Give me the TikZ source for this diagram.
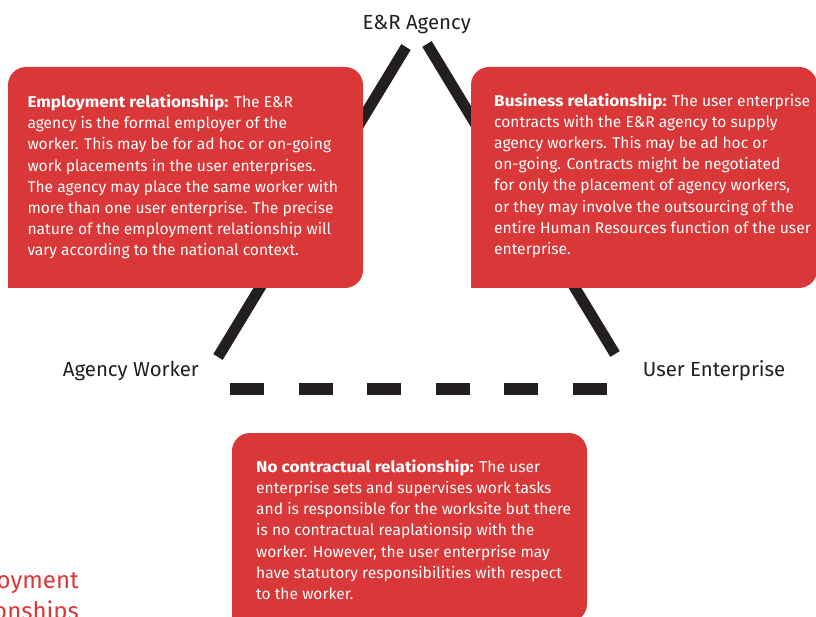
\documentclass[tikz,border=0pt]{standalone}
\usepackage{fontspec}
\setmainfont{Fira Sans}
\newcommand\hdtext[1]{{\addfontfeature{FakeStretch=1.1}\bfseries #1}}
\definecolor{boxred}{RGB}{218,55,56}
\definecolor{ink}{RGB}{35,31,32}
\definecolor{titlered}{RGB}{218,55,56}
\begin{document}
\begin{tikzpicture}[x=1pt,y=-1pt,
  bar/.style={draw=ink,line width=11pt},
  dashbar/.style={draw=ink,line width=12pt,dash pattern=on 34pt off 34.6pt},
  redbox/.style={fill=boxred},
  boxtext/.style={anchor=base west,inner sep=0pt,text=white,align=left,font=\fontsize{15.6}{21.2}\selectfont},
  lbl/.style={inner sep=0pt,text=ink,font=\fontsize{20.4}{24}\selectfont},
  sidetitle/.style={inner sep=0pt,text=titlered,anchor=base east,font=\fontsize{24}{30}\selectfont}]
\useasboundingbox (0,0) rectangle (816,617);
% labels
\node[lbl,anchor=base] (agency) at (416.7,29.3) {E\&R Agency};
\node[lbl,anchor=base west] (worker) at (62.7,376.7) {Agency Worker};
\node[lbl,anchor=base west] (user) at (642.7,376.7) {User Enterprise};
% connectors
\coordinate (lt) at (406,47);
\coordinate (lb) at (218,357);
\coordinate (rt) at (427,44);
\coordinate (rb) at (615,354);
\coordinate (dl) at (230,389);
\coordinate (dr) at (607,389);
\draw[bar] (lt) -- (lb);
\draw[bar] (rt) -- (rb);
\draw[dashbar] (dl) -- (dr);
% boxes
\fill[redbox,rounded corners=18pt] (8,67) rectangle (363,288);
\fill[redbox] (8,260) rectangle (30,288);
\fill[redbox,rounded corners=18pt] (471,67) rectangle (817,288);
\fill[redbox] (471,260) rectangle (495,288);
\fill[redbox,rounded corners=18pt] (232,433) rectangle (587,622);
\fill[redbox] (232,600) rectangle (260,622);
% texts (anchor = baseline of the last line)
\node[boxtext] (emptext) at (27.3,256) {\hdtext{Employment relationship:} The E\&R\\
agency is the formal employer of the\\
worker. This may be for ad hoc or on-going\\
work placements in the user enterprises.\\
The agency may place the same worker with\\
more than one user enterprise. The precise\\
nature of the employment relationship will\\
vary according to the national context.};
\node[boxtext] (bustext) at (494,254.5) {\hdtext{Business relationship:} The user enterprise\\
contracts with the E\&R agency to supply\\
agency workers. This may be ad hoc or\\
on-going. Contracts might be negotiated\\
for only the placement of agency workers,\\
or they may involve the outsourcing of the\\
entire Human Resources function of the user\\
enterprise.};
\node[boxtext] (notext) at (256,599.5) {\hdtext{No contractual relationship:} The user\\
enterprise sets and supervises work tasks\\
and is responsible for the worksite but there\\
is no contractual reaplationsip with the\\
worker. However, the user enterprise may\\
have statutory responsibilities with respect\\
to the worker.};
% cut-off side title
\node[sidetitle] (side1) at (79,588) {Employment};
\node[sidetitle] (side2) at (79,619.7) {relationships};
\end{tikzpicture}
\end{document}
